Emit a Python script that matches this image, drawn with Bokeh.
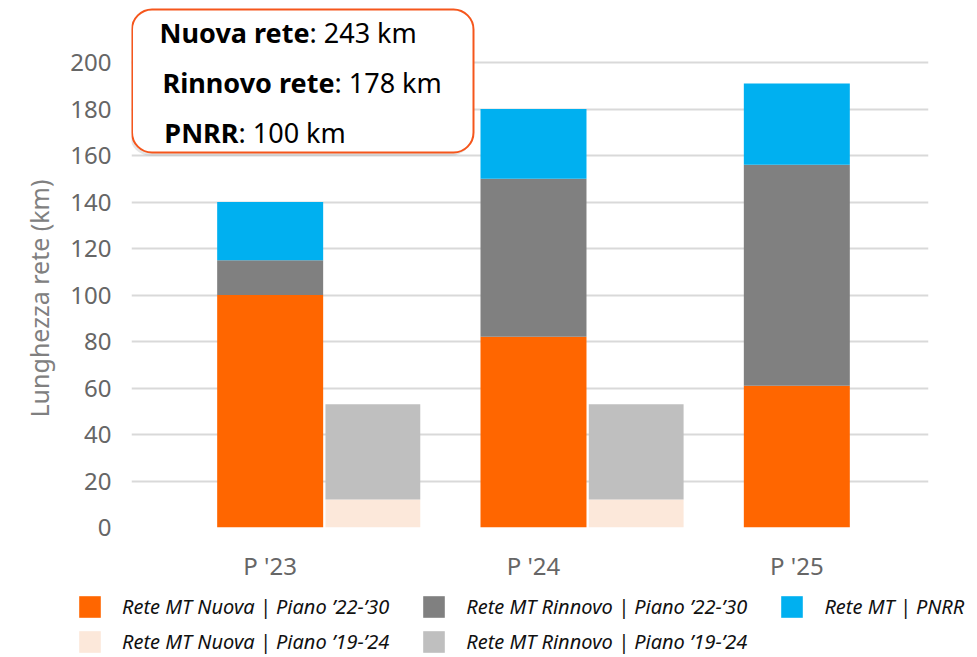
from bokeh.plotting import figure
from bokeh.models import (ColumnDataSource, FixedTicker, Legend, LegendItem,
                          Label, BoxAnnotation, Range1d, Title)
from bokeh.embed import file_html
from bokeh.resources import INLINE
import numpy as np

# ---------------- data ----------------
categories = ["P '23", "P '24", "P '25"]
nuova_22_30 = [100, 82, 61]
rinnovo_22_30 = [15, 68, 95]
pnrr = [25, 30, 35]
nuova_19_24 = [12, 12, 0]
rinnovo_19_24 = [41, 41, 0]
y_ticks = [0, 20, 40, 60, 80, 100, 120, 140, 160, 180, 200]
summary_names = ["Nuova rete", "Rinnovo rete", "PNRR"]
summary_values = [": 243 km", ": 178 km", ": 100 km"]
legend_labels = ["Rete MT Nuova | Piano \u201922-\u201930",
                 "Rete MT Rinnovo | Piano \u201922-\u201930",
                 "Rete MT | PNRR",
                 "Rete MT Nuova | Piano \u201919-\u201924",
                 "Rete MT Rinnovo | Piano \u201919-\u201924"]

# ---------------- style ----------------
C_ORANGE = "#FF6600"
C_GREY = "#808080"
C_BLUE = "#00B0F0"
C_PEACH = "#FCE8DA"
C_LGREY = "#BFBFBF"
FONT = "Noto Sans"
main_colors = [C_ORANGE, C_GREY, C_BLUE]
sec_colors = [C_PEACH, C_LGREY]

W = 977
H_MAIN, H_LEG = 586, 70
FL, FR, FT, FB = 131, 928, 0, 527     # frame edges in figure pixels
PX_CAT = 263.33                       # pixels per category step
PX_Y = 2.325                          # pixels per km
X0 = -0.5 - (138 - FL) / PX_CAT
X1 = X0 + (FR - FL) / PX_CAT
Y1 = (FB - FT) / PX_Y

idx = np.arange(len(categories))
src_main = ColumnDataSource(dict(x=idx, nuova=nuova_22_30, rinnovo=rinnovo_22_30, pnrr=pnrr))
src_sec = ColumnDataSource(dict(x=idx + 0.39, nuova=nuova_19_24, rinnovo=rinnovo_19_24))

p = figure(width=W, height=H_MAIN, x_range=Range1d(X0, X1), y_range=Range1d(0, Y1),
           output_backend="svg", toolbar_location=None,
           min_border_left=FL, min_border_right=W - FR, min_border_top=FT,
           min_border_bottom=H_MAIN - FB)
p.outline_line_color = None
p.background_fill_color = "white"
p.border_fill_color = "white"

main = p.vbar_stack(["nuova", "rinnovo", "pnrr"], x="x", width=0.4025, source=src_main,
                    color=main_colors, line_color=None)
sec = p.vbar_stack(["nuova", "rinnovo"], x="x", width=0.36, source=src_sec,
                   color=sec_colors, line_color=None)

# axes
p.xgrid.visible = False
p.ygrid.grid_line_color = "#D9D9D9"
p.ygrid.grid_line_width = 2
p.ygrid.ticker = FixedTicker(ticks=y_ticks)

for ax in (p.xaxis[0], p.yaxis[0]):
    ax.axis_line_color = None
    ax.major_tick_line_color = None
    ax.minor_tick_line_color = None
    ax.major_tick_out = 0
    ax.major_tick_in = 0
    ax.minor_tick_out = 0
    ax.major_label_text_font = FONT
    ax.major_label_text_font_size = "24px"
    ax.major_label_text_color = "#666666"

p.yaxis.ticker = FixedTicker(ticks=y_ticks)
p.yaxis.major_label_standoff = 20
p.add_layout(Title(text="Lunghezza rete (km)", align="left", offset=110,
                   vertical_align="top",
                   text_font=FONT, text_font_size="25px", text_font_style="normal",
                   text_color="#808080", standoff=20), "left")

p.xaxis.ticker = FixedTicker(ticks=list(idx))
p.xaxis.major_label_overrides = {int(i): c for i, c in zip(idx, categories)}
p.xaxis.major_label_standoff = 21


# ---------------- summary box (page pixel -> data helpers) ----------------
def dx(page_x):
    return (page_x - FL) / PX_CAT + X0


def dy(page_y):
    return (FB - page_y) / PX_Y


shadow = BoxAnnotation(left=dx(129.5), right=dx(471), top=dy(12), bottom=dy(155),
                       fill_color="black", fill_alpha=0.10, line_color=None,
                       border_radius=20, level="overlay")
box = BoxAnnotation(left=dx(131.5), right=dx(473), top=dy(9), bottom=dy(152),
                    fill_color="white", fill_alpha=1.0, line_color="#F5561C",
                    line_alpha=1.0, line_width=2, border_radius=20, level="overlay")
p.add_layout(shadow)
p.add_layout(box)

junctions = [309, 334, 238]
rows_y = [32, 82, 132]
for name, val, jx, ry in zip(summary_names, summary_values, junctions, rows_y):
    p.add_layout(Label(x=dx(jx), y=dy(ry), text=name, text_align="right",
                       text_baseline="middle", text_font=FONT, text_font_size="27px",
                       text_font_style="bold", text_color="black", level="overlay"))
    p.add_layout(Label(x=dx(jx), y=dy(ry), text=val, text_align="left",
                       text_baseline="middle", text_font=FONT, text_font_size="27px",
                       text_font_style="normal", text_color="black", level="overlay"))

# ---------------- legend strip (separate root; hidden renderers only feed the swatches) ----------------
lf = figure(width=W, height=H_LEG, x_range=Range1d(X0, X1), y_range=Range1d(0, Y1),
            output_backend="svg", toolbar_location=None,
            x_axis_location=None, y_axis_location=None,
            min_border=0, min_border_left=0, min_border_right=0,
            min_border_top=0, min_border_bottom=0)
lf.outline_line_color = None
lf.xgrid.visible = False
lf.ygrid.visible = False
lf.background_fill_color = "white"
l_main = lf.vbar_stack(["nuova", "rinnovo", "pnrr"], x="x", width=0.4, source=src_main,
                       color=main_colors, line_color=None, visible=False)
l_sec = lf.vbar_stack(["nuova", "rinnovo"], x="x", width=0.36, source=src_sec,
                      color=sec_colors, line_color=None, visible=False)

leg_style = dict(orientation="horizontal", margin=0, padding=0,
                 glyph_width=27, glyph_height=27, label_height=27,
                 label_standoff=19, spacing=31,
                 label_text_font=FONT, label_text_font_size="20px",
                 label_text_font_style="italic", label_text_color="#111111",
                 inactive_fill_alpha=0,
                 border_line_color=None, background_fill_alpha=0)
legend1 = Legend(items=[LegendItem(label=legend_labels[0], renderers=[l_main[0]]),
                        LegendItem(label=legend_labels[1], renderers=[l_main[1]]),
                        LegendItem(label=legend_labels[2], renderers=[l_main[2]])],
                 location=(76, 36), **leg_style)
legend2 = Legend(items=[LegendItem(label=legend_labels[3], renderers=[l_sec[0]]),
                        LegendItem(label=legend_labels[4], renderers=[l_sec[1]])],
                 location=(76, 1), **leg_style)
lf.add_layout(legend1, "center")
lf.add_layout(legend2, "center")

open("out.html", "w").write(file_html([p, lf], INLINE))
